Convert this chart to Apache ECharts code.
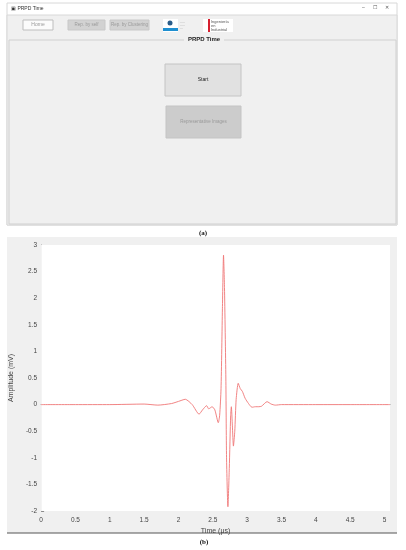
<!DOCTYPE html>
<html>
<head>
<meta charset="utf-8">
<script src="https://cdn.jsdelivr.net/npm/echarts@6/dist/echarts.min.js"></script>
<style>
  html, body { margin: 0; padding: 0; background: #fff; }
  #main { width: 406px; height: 550px; }
</style>
</head>
<body>
<div id="main"></div>
<script>
// pulse (b)
const timeUs = [0, 0.5, 1.0, 1.5, 1.7, 1.9, 2.0, 2.1, 2.2, 2.3, 2.35, 2.41, 2.44, 2.49, 2.53, 2.58, 2.6, 2.62, 2.64, 2.656, 2.67, 2.69, 2.70, 2.72, 2.74, 2.76, 2.77, 2.785, 2.80, 2.82, 2.84, 2.87, 2.9, 2.93, 2.97, 3.02, 3.07, 3.12, 3.17, 3.21, 3.29, 3.35, 3.41, 3.5, 4.0, 4.5, 5.08];
const amplitudeMv = [0, 0, 0, 0.01, -0.01, 0.02, 0.06, 0.10, 0.0, -0.18, -0.10, -0.02, -0.08, -0.04, -0.10, -0.34, -0.2, 0.3, 1.8, 2.81, 2.2, 0.5, -1.0, -1.92, -1.2, -0.2, -0.04, -0.4, -0.78, -0.5, 0.1, 0.40, 0.30, 0.25, 0.12, 0.02, -0.05, -0.04, -0.04, -0.03, 0.055, 0.01, -0.01, 0, 0, 0, 0];

const topButtons = ['Home', 'Rep. by self', 'Rep. by Clustering'];
const panelTitle = 'PRPD Time';

const chart = echarts.init(document.getElementById('main'), null, { renderer: 'canvas' });

const guiFont = 'Liberation Sans, Arial, sans-serif';
const graphics = [
  // window
  { type: 'rect', shape: { x: 7, y: 3, width: 390, height: 222 }, style: { fill: '#ffffff', stroke: '#d8d8d8', lineWidth: 1 }, z: 0 },
  { type: 'text', x: 11, y: 6, style: { text: '▣ ' + panelTitle, font: '5px ' + guiFont, fill: '#333' } },
  { type: 'text', x: 362, y: 5, style: { text: '–      ☐      ✕', font: '5px ' + guiFont, fill: '#555' } },
  { type: 'rect', shape: { x: 7, y: 15, width: 390, height: 210 }, style: { fill: '#f0f0f0', stroke: '#d8d8d8', lineWidth: 1 } },
  // top buttons
  { type: 'rect', shape: { x: 23, y: 20, width: 30, height: 10 }, style: { fill: '#fbfbfb', stroke: '#bdbdbd', lineWidth: 1 } },
  { type: 'text', x: 38, y: 25, style: { text: topButtons[0], font: '5px ' + guiFont, fill: '#999', align: 'center', verticalAlign: 'middle' } },
  { type: 'rect', shape: { x: 68, y: 20, width: 37, height: 10 }, style: { fill: '#d2d2d2', stroke: '#c8c8c8', lineWidth: 1 } },
  { type: 'text', x: 86.5, y: 25, style: { text: topButtons[1], font: '4.5px ' + guiFont, fill: '#9a9a9a', align: 'center', verticalAlign: 'middle' } },
  { type: 'rect', shape: { x: 110, y: 20, width: 39, height: 10 }, style: { fill: '#d2d2d2', stroke: '#c8c8c8', lineWidth: 1 } },
  { type: 'text', x: 129.5, y: 25, style: { text: topButtons[2], font: '4.5px ' + guiFont, fill: '#9a9a9a', align: 'center', verticalAlign: 'middle' } },
  // logos
  { type: 'rect', shape: { x: 163, y: 19, width: 15, height: 13 }, style: { fill: '#ffffff' } },
  { type: 'circle', shape: { cx: 170, cy: 23, r: 2.5 }, style: { fill: '#2a5d8a' } },
  { type: 'rect', shape: { x: 163, y: 28, width: 15, height: 3 }, style: { fill: '#1f8fd0' } },
  { type: 'text', x: 180, y: 21, style: { text: 'ـــــ\nـــــ\nـــ', font: '3px ' + guiFont, fill: '#aaa', lineHeight: 3 } },
  { type: 'rect', shape: { x: 203, y: 19, width: 30, height: 13 }, style: { fill: '#ffffff' } },
  { type: 'rect', shape: { x: 208, y: 19, width: 2, height: 13 }, style: { fill: '#d6202f' } },
  { type: 'text', x: 211, y: 19.5, style: { text: 'Ingeniería\nen\nIndustrial', font: '4px ' + guiFont, fill: '#555', lineHeight: 4 } },
  // panel
  { type: 'rect', shape: { x: 9, y: 40, width: 387, height: 184 }, style: { fill: 'none', stroke: '#d0d0d0', lineWidth: 1 } },
  { type: 'rect', shape: { x: 184, y: 36, width: 40, height: 7 }, style: { fill: '#f0f0f0' } },
  { type: 'text', x: 204, y: 39.5, style: { text: panelTitle, font: 'bold 6px ' + guiFont, fill: '#222', align: 'center', verticalAlign: 'middle' } },
  { type: 'rect', shape: { x: 165, y: 64, width: 76, height: 32 }, style: { fill: '#e1e1e1', stroke: '#c4c4c4', lineWidth: 1 } },
  { type: 'text', x: 203, y: 80, style: { text: 'Start', font: '5px ' + guiFont, fill: '#222', align: 'center', verticalAlign: 'middle' } },
  { type: 'rect', shape: { x: 166, y: 106, width: 75, height: 32 }, style: { fill: '#cccccc', stroke: '#c4c4c4', lineWidth: 1 } },
  { type: 'text', x: 203.5, y: 122, style: { text: 'Representative Images', font: '4.5px ' + guiFont, fill: '#999', align: 'center', verticalAlign: 'middle' } },
  // caption (a)
  { type: 'text', x: 203, y: 233, style: { text: '(a)', font: 'bold 7px Liberation Serif, serif', fill: '#111', align: 'center', verticalAlign: 'middle' } },
  // figure background for (b)
  { type: 'rect', shape: { x: 7, y: 237, width: 390, height: 296 }, style: { fill: '#f0f0f0' }, z: -10 },
  { type: 'line', shape: { x1: 7, y1: 533, x2: 397, y2: 533 }, style: { stroke: '#555', lineWidth: 1.2 } },
  { type: 'text', x: 204, y: 542, style: { text: '(b)', font: 'bold 7px Liberation Serif, serif', fill: '#111', align: 'center', verticalAlign: 'middle' } }
];

const option = {
  animation: false,
  backgroundColor: '#ffffff',
  graphic: { elements: graphics },
  grid: {
    left: 37,
    top: 245,
    width: 353,
    height: 266,
    show: true,
    backgroundColor: '#ffffff',
    borderWidth: 0,
    z: 1
  },
  xAxis: {
    type: 'value',
    min: 0,
    max: 5.08,
    interval: 0.5,
    name: 'Time (μs)',
    nameLocation: 'middle',
    nameGap: 17,
    nameTextStyle: { fontSize: 7, color: '#444', fontFamily: 'Liberation Sans' },
    axisLine: { lineStyle: { color: '#8a8a8a', width: 1 } },
    axisTick: { inside: true, length: 3, lineStyle: { color: '#8a8a8a' } },
    axisLabel: { fontSize: 6.5, color: '#444', margin: 6, showMaxLabel: false, fontFamily: 'Liberation Sans' },
    splitLine: { show: false }
  },
  yAxis: {
    type: 'value',
    min: -2,
    max: 3,
    interval: 0.5,
    name: 'Amplitude (mV)',
    nameLocation: 'middle',
    nameGap: 21,
    nameTextStyle: { fontSize: 7, color: '#444', fontFamily: 'Liberation Sans' },
    axisLine: { show: true, lineStyle: { color: '#8a8a8a', width: 1 } },
    axisTick: { show: true, inside: true, length: 3, lineStyle: { color: '#8a8a8a' } },
    axisLabel: { fontSize: 6.5, color: '#444', margin: 4, fontFamily: 'Liberation Sans' },
    splitLine: { show: false }
  },
  series: [
    {
      type: 'line',
      showSymbol: false,
      smooth: 0.2,
      lineStyle: { color: '#ef7676', width: 0.9 },
      data: timeUs.map((t, i) => [t, amplitudeMv[i]])
    }
  ]
};
chart.setOption(option);
</script>
</body>
</html>
